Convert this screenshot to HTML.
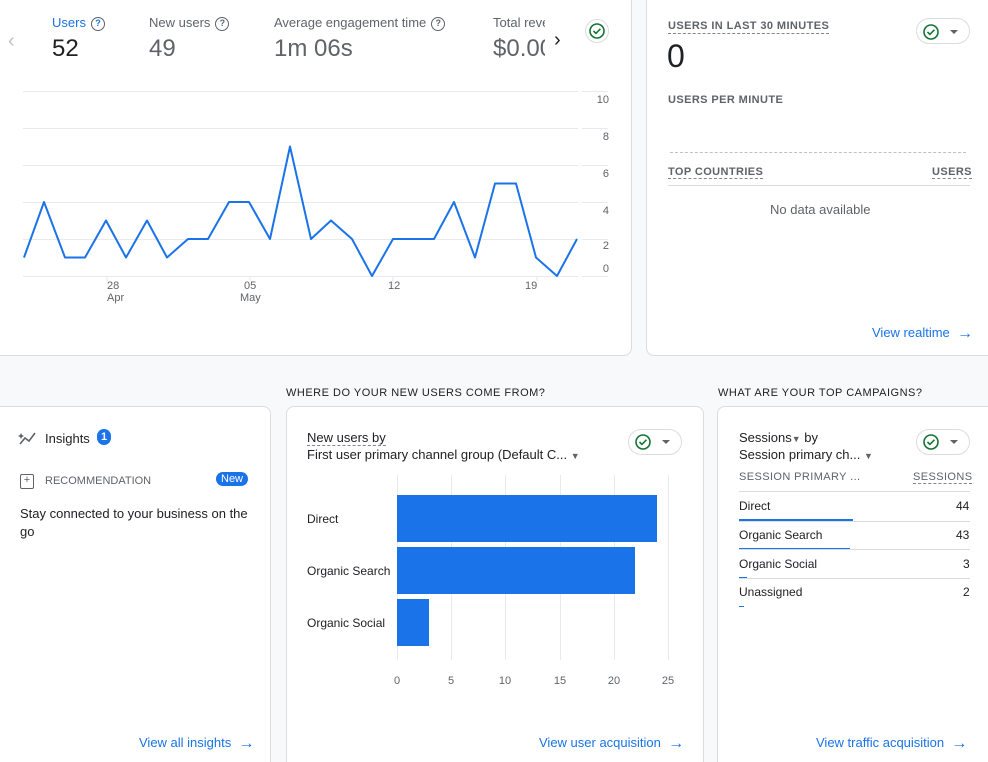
<!DOCTYPE html>
<html><head><meta charset="utf-8"><style>
*{margin:0;padding:0;box-sizing:border-box}
html,body{width:988px;height:762px;overflow:hidden}
body{background:#f8f9fa;font-family:"Liberation Sans",Arial,sans-serif;position:relative;color:#202124}
.card{position:absolute;background:#fff;border:1px solid #dadce0;border-radius:8px}
.a{position:absolute;white-space:nowrap}
.lbl{font-size:13px;color:#5f6368}
.big{font-size:24px;color:#5f6368}
.cap{font-size:11px;letter-spacing:.4px;color:#5f6368;font-weight:bold}
.dash{border-bottom:1px dashed #80868b}
.link{font-size:13px;color:#1a73e8}
.link b{font-weight:normal;font-size:16px;vertical-align:-1px}
.chk{position:absolute;border:1px solid #dadce0;border-radius:14px;height:26px;width:54px}
.q{display:inline-block;width:14px;height:14px;border:1.5px solid #5f6368;border-radius:50%;font-size:9px;text-align:center;line-height:11px;font-weight:bold;vertical-align:1px;margin-left:5px}
</style></head><body>

<div class="card" style="left:-10px;top:-10px;width:642px;height:366px"></div>
<div class="card" style="left:646px;top:-10px;width:352px;height:366px"></div>

<div class="a" style="left:8px;top:30px;font-size:20px;color:#bdc1c6">‹</div>
<div class="a lbl" style="left:52px;top:15px;color:#1a73e8">Users<span class="q">?</span></div>
<div class="a" style="left:52px;top:35px;font-size:24px;color:#202124">52</div>
<div class="a lbl" style="left:149px;top:15px">New users<span class="q">?</span></div>
<div class="a big" style="left:149px;top:35px">49</div>
<div class="a lbl" style="left:274px;top:15px">Average engagement time<span class="q">?</span></div>
<div class="a big" style="left:274px;top:35px">1m 06s</div>
<div class="a" style="left:493px;top:10px;width:52px;height:55px;overflow:hidden"><div class="a lbl" style="left:0;top:5px">Total revenue</div><div class="a big" style="left:0;top:25px">$0.00</div></div>
<div class="a" style="left:554px;top:29px;font-size:20px;color:#202124">›</div>
<svg class="a" style="left:585px;top:19px" width="24" height="24"><circle cx="12" cy="12" r="11.5" fill="#fff" stroke="#dadce0"/><circle cx="12" cy="12" r="7" fill="none" stroke="#137333" stroke-width="1.6"/><path d="M8.5 12l2.4 2.4 4.5-4.6" fill="none" stroke="#137333" stroke-width="1.6"/></svg>

<svg class="a" style="left:0;top:0" width="632" height="320">
<g stroke="#e8eaed" stroke-width="1">
<line x1="23" y1="91.5" x2="578" y2="91.5"/><line x1="582" y1="91.5" x2="608" y2="91.5"/>
<line x1="23" y1="128.5" x2="578" y2="128.5"/><line x1="582" y1="128.5" x2="608" y2="128.5"/>
<line x1="23" y1="165.5" x2="578" y2="165.5"/><line x1="582" y1="165.5" x2="608" y2="165.5"/>
<line x1="23" y1="202.5" x2="578" y2="202.5"/><line x1="582" y1="202.5" x2="608" y2="202.5"/>
<line x1="23" y1="239.5" x2="578" y2="239.5"/><line x1="582" y1="239.5" x2="608" y2="239.5"/>
<line x1="23" y1="276.5" x2="578" y2="276.5"/><line x1="582" y1="276.5" x2="608" y2="276.5"/>
<line x1="107" y1="276" x2="107" y2="281"/><line x1="250" y1="276" x2="250" y2="281"/><line x1="393" y1="276" x2="393" y2="281"/><line x1="537" y1="276" x2="537" y2="281"/>
</g>
<polyline fill="none" stroke="#1a73e8" stroke-width="2" stroke-linejoin="round" points="24,257.5 44,202 65,257.5 85,257.5 106,220.5 126,257.5 147,220.5 167,257.5 188,239 208,239 229,202 249,202 270,239 290,146.5 311,239 331,220.5 352,239 372,276 393,239 413,239 434,239 454,202 475,257.5 495,183.5 516,183.5 536,257.5 557,276 577,239"/>
<g font-size="11" fill="#5f6368" font-family="Liberation Sans,Arial,sans-serif" text-anchor="end">
<text x="609" y="103">10</text><text x="609" y="140">8</text><text x="609" y="177">6</text><text x="609" y="214">4</text><text x="609" y="249">2</text><text x="609" y="272">0</text>
</g>
<g font-size="11" fill="#5f6368" font-family="Liberation Sans,Arial,sans-serif">
<text x="107" y="289">28</text><text x="107" y="301">Apr</text><text x="244" y="289">05</text><text x="240" y="301">May</text><text x="388" y="289">12</text><text x="525" y="289">19</text>
</g>
</svg>

<div class="a cap dash" style="left:668px;top:20px;padding-bottom:1px">USERS IN LAST 30 MINUTES</div>
<div class="a" style="left:667px;top:38px;font-size:32px;color:#202124">0</div>
<div class="a cap" style="left:668px;top:94px">USERS PER MINUTE</div>
<div class="a" style="left:670px;top:152px;width:296px;border-top:1px dashed #bdc1c6"></div>
<div class="a cap dash" style="left:668px;top:166px">TOP COUNTRIES</div>
<div class="a cap dash" style="left:932px;top:166px">USERS</div>
<div class="a" style="left:668px;top:185px;width:302px;border-top:1px solid #dadce0"></div>
<div class="a lbl" style="left:770px;top:202px">No data available</div>
<div class="a link" style="left:872px;top:325px">View realtime &nbsp;<b>→</b></div>
<div class="chk" style="left:916px;top:18px"></div>
<svg class="a" style="left:922px;top:23px" width="44" height="18"><circle cx="9" cy="9" r="7" fill="none" stroke="#137333" stroke-width="1.6"/><path d="M5.5 9l2.4 2.4 4.5-4.6" fill="none" stroke="#137333" stroke-width="1.6"/><path d="M28 7l4 4 4-4z" fill="#5f6368"/></svg>

<div class="a cap" style="left:286px;top:387px;font-weight:normal;color:#202124;letter-spacing:.5px">WHERE DO YOUR NEW USERS COME FROM?</div>
<div class="a cap" style="left:718px;top:387px;font-weight:normal;color:#202124;letter-spacing:.5px">WHAT ARE YOUR TOP CAMPAIGNS?</div>

<div class="card" style="left:-10px;top:406px;width:281px;height:370px"></div>
<div class="card" style="left:286px;top:406px;width:418px;height:370px"></div>
<div class="card" style="left:717px;top:406px;width:281px;height:370px"></div>

<svg class="a" style="left:18px;top:430px" width="20" height="16"><path d="M2 14l5-6 4 3 6-8" fill="none" stroke="#5f6368" stroke-width="1.6"/><path d="M3 3l1 2 2 1-2 1-1 2-1-2-2-1 2-1z" fill="#5f6368"/></svg>
<div class="a" style="left:45px;top:431px;font-size:13px">Insights</div>
<div class="a" style="left:97px;top:429px;width:14px;height:16px;border-radius:8px;background:#1a73e8;color:#fff;font-size:11px;text-align:center;line-height:16px;font-weight:bold">1</div>
<div class="a" style="left:20px;top:474px;width:14px;height:15px;border:1.5px solid #5f6368;border-radius:2px;font-size:11px;line-height:11px;text-align:center;color:#5f6368">+</div>
<div class="a" style="left:45px;top:475px;font-size:11px;color:#5f6368">RECOMMENDATION</div>
<div class="a" style="left:216px;top:472px;background:#1a73e8;color:#fff;font-size:11px;border-radius:8px;padding:1px 5px">New</div>
<div class="a" style="left:20px;top:505px;font-size:13px;line-height:18px;white-space:normal;width:235px">Stay connected to your business on the go</div>
<div class="a link" style="left:139px;top:735px">View all insights &nbsp;<b>→</b></div>

<div class="a dash" style="left:307px;top:430px;font-size:13px">New users by</div>
<div class="a" style="left:307px;top:447px;font-size:13px">First user primary channel group (Default C... <span style="font-size:9px;color:#5f6368">▼</span></div>
<div class="chk" style="left:628px;top:429px"></div>
<svg class="a" style="left:634px;top:433px" width="44" height="18"><circle cx="9" cy="9" r="7" fill="none" stroke="#137333" stroke-width="1.6"/><path d="M5.5 9l2.4 2.4 4.5-4.6" fill="none" stroke="#137333" stroke-width="1.6"/><path d="M28 7l4 4 4-4z" fill="#5f6368"/></svg>
<svg class="a" style="left:286px;top:460px" width="418" height="240">
<g stroke="#e8eaed"><line x1="111.5" y1="15" x2="111.5" y2="200"/><line x1="165.5" y1="15" x2="165.5" y2="200"/><line x1="219.5" y1="15" x2="219.5" y2="200"/><line x1="274.5" y1="15" x2="274.5" y2="200"/><line x1="328.5" y1="15" x2="328.5" y2="200"/><line x1="382.5" y1="15" x2="382.5" y2="200"/></g>
<rect x="111" y="35" width="260" height="47" fill="#1a73e8"/>
<rect x="111" y="87" width="238" height="47" fill="#1a73e8"/>
<rect x="111" y="139" width="32" height="47" fill="#1a73e8"/>
<g font-size="12" fill="#202124" font-family="Liberation Sans,Arial,sans-serif"><text x="21" y="63">Direct</text><text x="21" y="115">Organic Search</text><text x="21" y="167">Organic Social</text></g>
<g font-size="11" fill="#5f6368" font-family="Liberation Sans,Arial,sans-serif" text-anchor="middle"><text x="111" y="224">0</text><text x="165" y="224">5</text><text x="219" y="224">10</text><text x="274" y="224">15</text><text x="328" y="224">20</text><text x="382" y="224">25</text></g>
</svg>
<div class="a link" style="left:539px;top:735px">View user acquisition &nbsp;<b>→</b></div>

<div class="a" style="left:739px;top:430px;font-size:13px">Sessions<span style="font-size:9px;color:#5f6368">▼</span> by</div>
<div class="a" style="left:739px;top:447px;font-size:13px">Session primary ch... <span style="font-size:9px;color:#5f6368">▼</span></div>
<div class="chk" style="left:916px;top:429px"></div>
<svg class="a" style="left:922px;top:433px" width="44" height="18"><circle cx="9" cy="9" r="7" fill="none" stroke="#137333" stroke-width="1.6"/><path d="M5.5 9l2.4 2.4 4.5-4.6" fill="none" stroke="#137333" stroke-width="1.6"/><path d="M28 7l4 4 4-4z" fill="#5f6368"/></svg>
<div class="a cap" style="left:739px;top:471px;font-weight:normal">SESSION PRIMARY ...</div>
<div class="a cap dash" style="left:913px;top:471px;font-weight:normal">SESSIONS</div>
<div class="a" style="left:739px;top:491px;width:231px;border-top:1px solid #dadce0"></div>
<div class="a" style="left:739px;top:499px;font-size:12px">Direct</div><div class="a" style="left:956px;top:499px;font-size:12px">44</div>
<div class="a" style="left:739px;top:519px;width:114px;height:2px;background:#1a73e8"></div>
<div class="a" style="left:739px;top:521px;width:231px;border-top:1px solid #dadce0"></div>
<div class="a" style="left:739px;top:528px;font-size:12px">Organic Search</div><div class="a" style="left:956px;top:528px;font-size:12px">43</div>
<div class="a" style="left:739px;top:548px;width:111px;height:2px;background:#1a73e8"></div>
<div class="a" style="left:739px;top:549px;width:231px;border-top:1px solid #dadce0"></div>
<div class="a" style="left:739px;top:557px;font-size:12px">Organic Social</div><div class="a" style="left:963px;top:557px;font-size:12px">3</div>
<div class="a" style="left:739px;top:577px;width:8px;height:2px;background:#1a73e8"></div>
<div class="a" style="left:739px;top:578px;width:231px;border-top:1px solid #dadce0"></div>
<div class="a" style="left:739px;top:585px;font-size:12px">Unassigned</div><div class="a" style="left:963px;top:585px;font-size:12px">2</div>
<div class="a" style="left:739px;top:606px;width:5px;height:1px;background:#1a73e8"></div>
<div class="a link" style="left:816px;top:735px">View traffic acquisition &nbsp;<b>→</b></div>
</body></html>
